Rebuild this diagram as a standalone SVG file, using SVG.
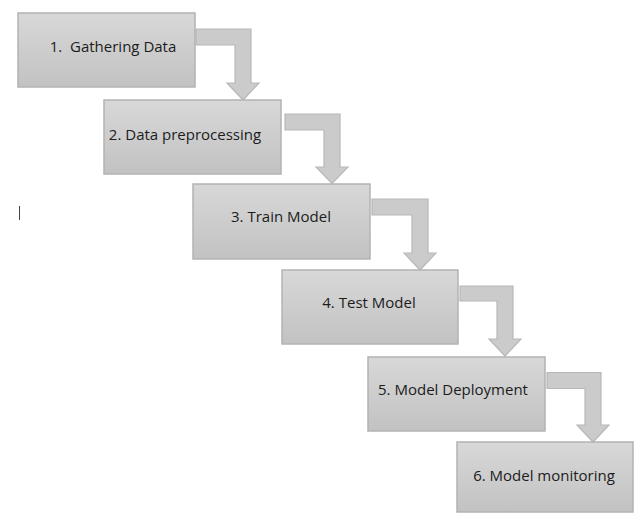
<svg xmlns="http://www.w3.org/2000/svg" width="638" height="513" viewBox="0 0 638 513">
  <defs>
    <linearGradient id="boxFill" x1="0" y1="0" x2="0" y2="1">
      <stop offset="0" stop-color="#d8d8d8"/>
      <stop offset="1" stop-color="#c2c2c2"/>
    </linearGradient>
    <style>
      .step rect { fill: url(#boxFill); stroke: #b3b3b3; stroke-width: 1.5; }
      .step text { font-family: "Open Sans", "Liberation Sans", sans-serif; font-size: 15px; fill: #1c1c1c; text-anchor: middle; }
      .bend { fill: #cbcbcb; stroke: #b8b8b8; stroke-width: 1.2; stroke-linejoin: miter; }
    </style>
  </defs>

  <rect width="638" height="513" fill="#ffffff"/>

  <!-- text cursor -->
  <line x1="19.5" y1="206" x2="19.5" y2="220" stroke="#444444" stroke-width="1"/>

  <!-- bent arrows between steps -->
  <g id="connectors">
    <path class="bend" d="M196,29 H251 V83 H259 L243,100 L227,83 H235 V45 H196 Z"/>
    <path class="bend" d="M285,114 H340 V167 H348 L332,183.5 L316,167 H324 V130 H285 Z"/>
    <path class="bend" d="M372,199 H428 V253 H436 L420,270 L404,253 H412 V215 H372 Z"/>
    <path class="bend" d="M460,286 H513 V339 H521 L505,356 L489,339 H497 V301 H460 Z"/>
    <path class="bend" d="M547,372.5 H601 V425 H609 L593,442 L577,425 H585 V388.5 H547 Z"/>
  </g>

  <g id="step1" class="step">
    <rect x="18" y="13" width="177" height="74"/>
    <text x="113" y="51.5" xml:space="preserve">1.  Gathering Data</text>
  </g>
  <g id="step2" class="step">
    <rect x="104" y="100" width="177" height="74"/>
    <text x="185" y="139.5">2. Data preprocessing</text>
  </g>
  <g id="step3" class="step">
    <rect x="193" y="184" width="177" height="75"/>
    <text x="281" y="222">3. Train Model</text>
  </g>
  <g id="step4" class="step">
    <rect x="282" y="270" width="176" height="74"/>
    <text x="369" y="307.5">4. Test Model</text>
  </g>
  <g id="step5" class="step">
    <rect x="368" y="357" width="177" height="74"/>
    <text x="453" y="394.5">5. Model Deployment</text>
  </g>
  <g id="step6" class="step">
    <rect x="457" y="442" width="176" height="70"/>
    <text x="544" y="480.5">6. Model monitoring</text>
  </g>
</svg>
